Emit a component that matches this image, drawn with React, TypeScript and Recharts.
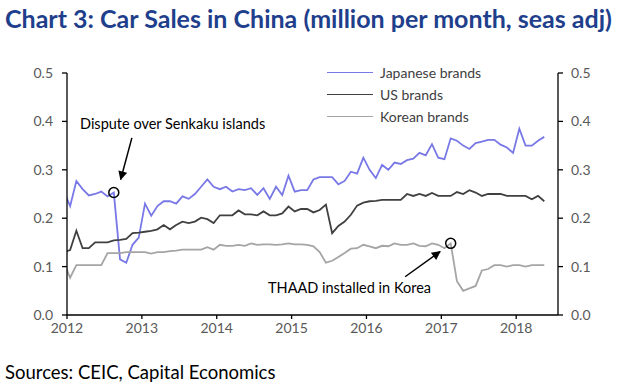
// Chart 3: Car Sales in China (million per month, seas adj)
// Monthly series, Dec 2011 – May 2018. Points sit mid-month; the Dec 2011
// value only exists so the line runs into the left axis (it gets clipped).

import {
  LineChart,
  Line,
  XAxis,
  YAxis,
  ReferenceDot,
  ReferenceLine,
} from "recharts";

const FONT = "Lato, 'Open Sans', sans-serif";

// first entry = Dec 2011, then Jan 2012 .. May 2018
const japanese = [
  0.255,
  0.225, 0.277, 0.26, 0.247, 0.25, 0.255, 0.245, 0.253, 0.115, 0.108,
  0.145, 0.16, 0.23, 0.205, 0.225, 0.235, 0.235, 0.23, 0.245, 0.24,
  0.25, 0.265, 0.28, 0.265, 0.26, 0.265, 0.255, 0.26, 0.258, 0.262,
  0.248, 0.262, 0.24, 0.265, 0.248, 0.288, 0.255, 0.258, 0.258, 0.28,
  0.285, 0.285, 0.285, 0.27, 0.277, 0.296, 0.292, 0.325, 0.3, 0.283,
  0.31, 0.3, 0.315, 0.312, 0.32, 0.323, 0.335, 0.33, 0.353, 0.325,
  0.322, 0.365, 0.36, 0.35, 0.343, 0.355, 0.358, 0.362, 0.362, 0.352,
  0.346, 0.335, 0.385, 0.35, 0.35, 0.36, 0.368,
];

const us = [
  0.13,
  0.134, 0.174, 0.138, 0.138, 0.15, 0.15, 0.15, 0.154, 0.155, 0.157,
  0.169, 0.17, 0.172, 0.174, 0.177, 0.186, 0.177, 0.186, 0.193, 0.19,
  0.193, 0.201, 0.198, 0.19, 0.206, 0.206, 0.206, 0.216, 0.208, 0.208,
  0.206, 0.214, 0.206, 0.206, 0.21, 0.224, 0.214, 0.219, 0.219, 0.212,
  0.217, 0.228, 0.169, 0.184, 0.193, 0.207, 0.226, 0.232, 0.235, 0.236,
  0.238, 0.238, 0.238, 0.238, 0.25, 0.246, 0.25, 0.246, 0.252, 0.246,
  0.246, 0.246, 0.254, 0.25, 0.258, 0.253, 0.246, 0.25, 0.25, 0.25,
  0.246, 0.246, 0.246, 0.246, 0.239, 0.246, 0.235,
];

const korean = [
  0.109,
  0.077, 0.103, 0.103, 0.103, 0.103, 0.103, 0.128, 0.128, 0.128, 0.13,
  0.13, 0.13, 0.13, 0.127, 0.13, 0.13, 0.132, 0.133, 0.135, 0.135,
  0.135, 0.135, 0.14, 0.135, 0.145, 0.143, 0.143, 0.145, 0.143, 0.148,
  0.145, 0.146, 0.146, 0.145, 0.146, 0.148, 0.146, 0.146, 0.145, 0.142,
  0.13, 0.108, 0.112, 0.12, 0.128, 0.137, 0.138, 0.145, 0.142, 0.138,
  0.143, 0.142, 0.148, 0.145, 0.145, 0.148, 0.143, 0.142, 0.148, 0.145,
  0.138, 0.148, 0.07, 0.05, 0.055, 0.06, 0.092, 0.095, 0.103, 0.103,
  0.1, 0.103, 0.103, 0.1, 0.103, 0.103, 0.103,
];

const yearTicks = [2012, 2013, 2014, 2015, 2016, 2017, 2018];
const valueTicks = [0, 0.1, 0.2, 0.3, 0.4, 0.5];

// months since Jan 2012, placed mid-month (Dec 2011 -> -0.5)
const data = japanese.map((v, i) => ({
  t: i - 0.5,
  japanese: v,
  us: us[i],
  korean: korean[i],
}));

const SENKAKU = 8; // Sep 2012
const THAAD = 62; // Mar 2017

const series = [
  { key: "japanese", name: "Japanese brands", color: "#7878E6" },
  { key: "us", name: "US brands", color: "#404040" },
  { key: "korean", name: "Korean brands", color: "#A5A5A5" },
];

const axisStyle = { stroke: "#000", strokeWidth: 1.3 };
const tickStyle = { fill: "#595959", fontSize: 14, fontFamily: FONT };

export default function App() {
  return (
    <div
      style={{
        position: "absolute",
        left: 0,
        top: 0,
        width: 620,
        height: 387,
        background: "#fff",
        fontFamily: FONT,
      }}
    >
      <div
        style={{
          position: "absolute",
          left: 5,
          top: 3,
          fontSize: 25,
          fontWeight: 700,
          color: "#1F3F8C",
          whiteSpace: "nowrap",
        }}
      >
        Chart 3: Car Sales in China (million per month, seas adj)
      </div>

      <LineChart
        width={620}
        height={387}
        data={data}
        margin={{ top: 73, right: 22, bottom: 42, left: 27 }}
        style={{ position: "absolute", left: 0, top: 0 }}
      >
        <defs>
          <marker
            id="arrowHead"
            viewBox="0 0 10 10"
            refX="9"
            refY="5"
            markerUnits="userSpaceOnUse"
            markerWidth="11"
            markerHeight="9"
            orient="auto"
          >
            <path d="M0,0 L10,5 L0,10 z" fill="#000" />
          </marker>
        </defs>

        <XAxis
          type="number"
          dataKey="t"
          domain={[0, 78.7]}
          allowDataOverflow
          ticks={yearTicks.map((y) => (y - 2012) * 12)}
          tickFormatter={(v) => String(2012 + v / 12)}
          axisLine={axisStyle}
          tickLine={axisStyle}
          tickSize={4}
          tickMargin={4}
          tick={tickStyle}
          height={30}
        />
        <YAxis
          yAxisId="left"
          domain={[0, 0.5]}
          allowDataOverflow
          ticks={valueTicks}
          tickFormatter={(v) => v.toFixed(1)}
          axisLine={axisStyle}
          tickLine={axisStyle}
          tickSize={5}
          tickMargin={9}
          tick={tickStyle}
          width={40}
        />
        <YAxis
          yAxisId="right"
          orientation="right"
          domain={[0, 0.5]}
          allowDataOverflow
          ticks={valueTicks}
          tickFormatter={(v) => v.toFixed(1)}
          axisLine={axisStyle}
          tickLine={axisStyle}
          tickSize={5}
          tickMargin={8}
          tick={tickStyle}
          width={40}
        />

        {series.map((s) => (
          <Line
            key={s.key}
            yAxisId="left"
            type="linear"
            dataKey={s.key}
            stroke={s.color}
            strokeWidth={1.8}
            dot={false}
            activeDot={false}
            isAnimationActive={false}
          />
        ))}

        {/* Senkaku dispute marker */}
        <ReferenceLine
          yAxisId="left"
          segment={[
            { x: 10.4, y: 0.366 },
            { x: 8.6, y: 0.28 },
          ]}
          stroke="#000"
          strokeWidth={1.5}
          markerEnd="url(#arrowHead)"
        />
        <ReferenceDot
          yAxisId="left"
          x={data[SENKAKU].t}
          y={japanese[SENKAKU]}
          r={5}
          fill="none"
          stroke="#000"
          strokeWidth={1.5}
        />

        {/* THAAD marker */}
        <ReferenceLine
          yAxisId="left"
          segment={[
            { x: 54.2, y: 0.079 },
            { x: 59.8, y: 0.131 },
          ]}
          stroke="#000"
          strokeWidth={1.5}
          markerEnd="url(#arrowHead)"
        />
        <ReferenceDot
          yAxisId="left"
          x={data[THAAD].t}
          y={korean[THAAD]}
          r={5}
          fill="none"
          stroke="#000"
          strokeWidth={1.5}
        />
      </LineChart>

      {/* legend */}
      <div style={{ position: "absolute", left: 327, top: 62 }}>
        {series.map((s) => (
          <div
            key={s.key}
            style={{
              display: "flex",
              alignItems: "center",
              height: 21.7,
              fontSize: 14,
              color: "#404040",
              whiteSpace: "nowrap",
            }}
          >
            <span
              style={{
                display: "inline-block",
                width: 46,
                height: 0,
                borderTop: `1.8px solid ${s.color}`,
                marginRight: 7,
              }}
            />
            {s.name}
          </div>
        ))}
      </div>

      <div
        style={{
          position: "absolute",
          left: 80,
          top: 116,
          fontSize: 14.5,
          lineHeight: "16px",
          color: "#000",
          whiteSpace: "nowrap",
        }}
      >
        Dispute over Senkaku islands
      </div>
      <div
        style={{
          position: "absolute",
          left: 268,
          top: 280,
          fontSize: 14.5,
          lineHeight: "16px",
          color: "#000",
          whiteSpace: "nowrap",
        }}
      >
        THAAD installed in Korea
      </div>

      <div
        style={{
          position: "absolute",
          left: 5,
          top: 361,
          fontSize: 18.5,
          color: "#000",
          whiteSpace: "nowrap",
        }}
      >
        Sources: CEIC, Capital Economics
      </div>
    </div>
  );
}
